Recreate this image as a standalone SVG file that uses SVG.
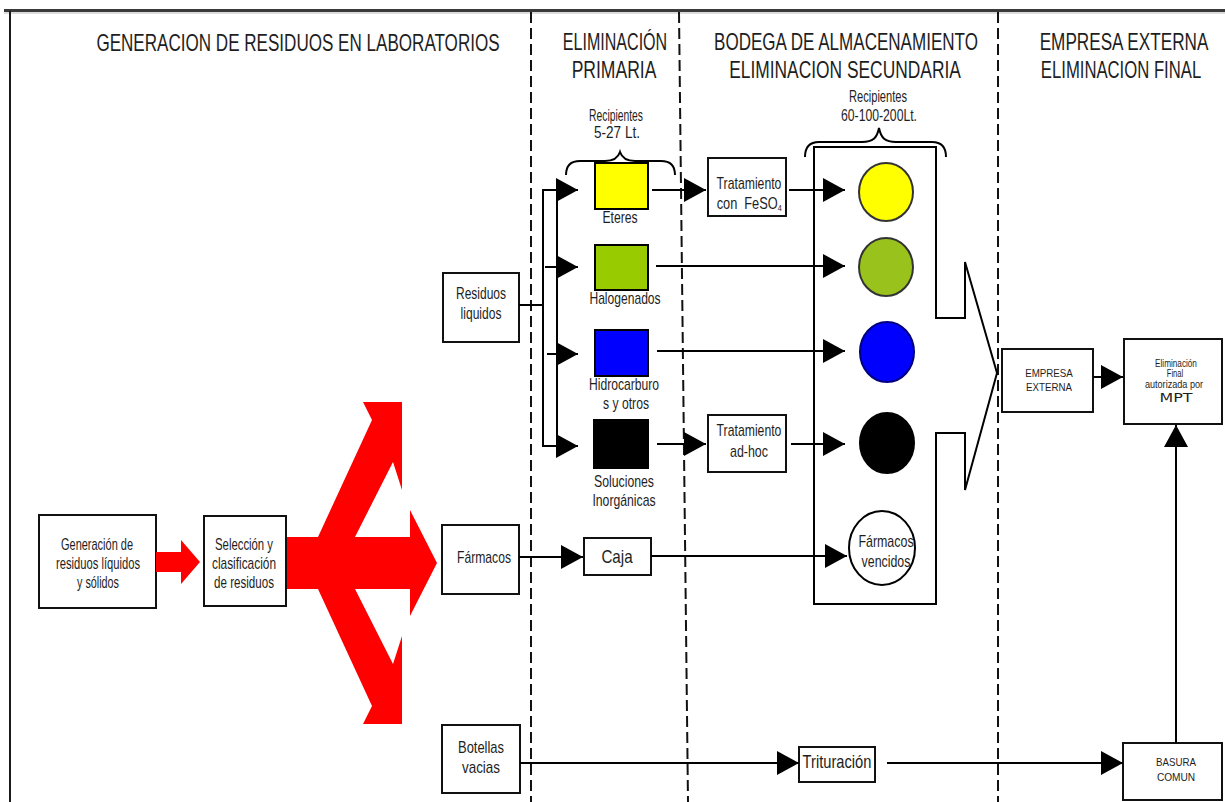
<svg xmlns="http://www.w3.org/2000/svg" width="1225" height="802" viewBox="0 0 1225 802">
<defs>
<marker id="ah" viewBox="0 0 22 24" refX="22" refY="12" markerWidth="22" markerHeight="24" markerUnits="userSpaceOnUse" orient="auto"><path d="M0,0 L22,12 L0,24 Z" fill="#000"/></marker>
</defs>
<style>
text{font-family:"Liberation Sans",Arial,sans-serif;fill:#1e1e1e;text-anchor:middle}
.hd{font-size:24px}
.sm{font-size:16px}
.md{font-size:18px}
.xs{font-size:11px}
.xxs{font-size:10px}
.box{fill:#fff;stroke:#111;stroke-width:2}
.ln{fill:none;stroke:#000;stroke-width:2}
.arr{fill:none;stroke:#000;stroke-width:2;marker-end:url(#ah)}
.dash{fill:none;stroke:#111;stroke-width:2;stroke-dasharray:11 5}
.red{fill:#ff0000}
</style>
<rect x="0" y="0" width="1225" height="802" fill="#fff"/>
<g id="frame">
<rect x="4" y="9" width="1221" height="3" fill="#3a3a3a"/>
<line x1="4" y1="13" x2="1225" y2="13" stroke="#bbb" stroke-width="1"/>
<line x1="10" y1="11" x2="10" y2="802" stroke="#1a1a1a" stroke-width="2"/>
<line class="dash" x1="531" y1="12" x2="531" y2="802"/>
<line class="dash" x1="679" y1="12" x2="688" y2="802"/>
<line class="dash" x1="998" y1="12" x2="998" y2="802"/>
</g>
<g id="headers">
<text class="hd" transform="translate(298,51) scale(.7,1)" textLength="576" lengthAdjust="spacingAndGlyphs">GENERACION DE RESIDUOS EN LABORATORIOS</text>
<text class="hd" transform="translate(615,50) scale(.7,1)" textLength="149" lengthAdjust="spacingAndGlyphs">ELIMINACIÓN</text>
<text class="hd" transform="translate(614,78) scale(.7,1)" textLength="121" lengthAdjust="spacingAndGlyphs">PRIMARIA</text>
<text class="hd" transform="translate(846,50) scale(.7,1)" textLength="377" lengthAdjust="spacingAndGlyphs">BODEGA DE ALMACENAMIENTO</text>
<text class="hd" transform="translate(845,78) scale(.7,1)" textLength="331" lengthAdjust="spacingAndGlyphs">ELIMINACION SECUNDARIA</text>
<text class="hd" transform="translate(1124,50) scale(.7,1)" textLength="241" lengthAdjust="spacingAndGlyphs">EMPRESA EXTERNA</text>
<text class="hd" transform="translate(1121,78) scale(.7,1)" textLength="229" lengthAdjust="spacingAndGlyphs">ELIMINACION FINAL</text>
</g>
<g id="recipientes-primaria">
<text class="sm" transform="translate(616,121) scale(.8,1)" textLength="67.5" lengthAdjust="spacingAndGlyphs">Recipientes</text>
<text class="sm" transform="translate(617,138) scale(.8,1)" textLength="57.5" lengthAdjust="spacingAndGlyphs">5-27 Lt.</text>
<path class="ln" d="M566,175 C566,166 570,161 580,161 L605,161 C614,161 618,158 620,152 C622,158 626,161 635,161 L661,161 C671,161 675,166 675,175"/>
</g>
<g id="recipientes-secundaria">
<text class="sm" transform="translate(878,102) scale(.8,1)" textLength="72.5" lengthAdjust="spacingAndGlyphs">Recipientes</text>
<text class="sm" transform="translate(879,121) scale(.8,1)" textLength="95" lengthAdjust="spacingAndGlyphs">60-100-200Lt.</text>
<path class="ln" d="M805,157 C805,147 809,142 819,142 L862,142 C873,142 877,138 879,128 C881,138 885,142 896,142 L932,142 C942,142 946,147 946,157"/>
</g>
<g id="generacion">
<rect class="box" x="39" y="515" width="117" height="93"/>
<text class="sm" transform="translate(97,550) scale(.8,1)" textLength="90" lengthAdjust="spacingAndGlyphs">Generación de</text>
<text class="sm" transform="translate(98,569) scale(.8,1)" textLength="105" lengthAdjust="spacingAndGlyphs">residuos líquidos</text>
<text class="sm" transform="translate(98,588) scale(.8,1)" textLength="52.5" lengthAdjust="spacingAndGlyphs">y sólidos</text>
</g>
<g id="seleccion">
<rect class="box" x="204" y="516" width="82" height="90"/>
<text class="sm" transform="translate(244,550) scale(.8,1)" textLength="72.5" lengthAdjust="spacingAndGlyphs">Selección y</text>
<text class="sm" transform="translate(244,569) scale(.8,1)" textLength="80" lengthAdjust="spacingAndGlyphs">clasificación</text>
<text class="sm" transform="translate(244,588) scale(.8,1)" textLength="75" lengthAdjust="spacingAndGlyphs">de residuos</text>
</g>
<g id="red-arrows">
<polygon class="red" points="156,552 181,552 181,540 200,562 181,584 181,572 156,572"/>
<polygon class="red" points="287,537 318,537 372,420 363,402 402,402 402,490 393,462 355,537 410,537 410,510 437,563 410,616 410,589 355,589 393,664 402,636 402,724 363,724 372,706 318,589 287,589"/>
</g>
<g id="residuos-liquidos">
<rect class="box" x="443" y="273" width="76" height="69"/>
<text class="sm" transform="translate(481,299) scale(.8,1)" textLength="62.5" lengthAdjust="spacingAndGlyphs">Residuos</text>
<text class="sm" transform="translate(481,319) scale(.8,1)" textLength="51" lengthAdjust="spacingAndGlyphs">liquidos</text>
</g>
<g id="farmacos">
<rect class="box" x="442" y="525" width="77" height="69"/>
<text class="sm" transform="translate(484,563) scale(.8,1)" textLength="67.5" lengthAdjust="spacingAndGlyphs">Fármacos</text>
</g>
<g id="botellas">
<rect class="box" x="442" y="725" width="78" height="68"/>
<text class="sm" transform="translate(481,753) scale(.8,1)" textLength="57.5" lengthAdjust="spacingAndGlyphs">Botellas</text>
<text class="sm" transform="translate(481,773) scale(.8,1)" textLength="47.5" lengthAdjust="spacingAndGlyphs">vacias</text>
</g>
<g id="eteres">
<rect x="595" y="163" width="53" height="46" fill="#ffff00" stroke="#000" stroke-width="2"/>
<text class="sm" transform="translate(620,223) scale(.8,1)" textLength="44" lengthAdjust="spacingAndGlyphs">Eteres</text>
</g>
<g id="halogenados">
<rect x="595" y="245" width="53" height="45" fill="#99cc00" stroke="#000" stroke-width="2"/>
<text class="sm" transform="translate(625,304) scale(.8,1)" textLength="89" lengthAdjust="spacingAndGlyphs">Halogenados</text>
</g>
<g id="hidrocarburos">
<rect x="595" y="330" width="53" height="46" fill="#0000ff" stroke="#000" stroke-width="2"/>
<text class="sm" transform="translate(624,390) scale(.8,1)" textLength="87.5" lengthAdjust="spacingAndGlyphs">Hidrocarburo</text>
<text class="sm" transform="translate(626,409) scale(.8,1)" textLength="57.5" lengthAdjust="spacingAndGlyphs">s y otros</text>
</g>
<g id="inorganicas">
<rect x="594" y="420" width="54" height="48" fill="#000" stroke="#000" stroke-width="2"/>
<text class="sm" transform="translate(624,487) scale(.8,1)" textLength="75" lengthAdjust="spacingAndGlyphs">Soluciones</text>
<text class="sm" transform="translate(624,506) scale(.8,1)" textLength="79" lengthAdjust="spacingAndGlyphs">Inorgánicas</text>
</g>
<g id="caja">
<rect class="box" x="584" y="538" width="67" height="37"/>
<text class="md" transform="translate(617,563) scale(.8,1)" textLength="39" lengthAdjust="spacingAndGlyphs">Caja</text>
</g>
<g id="tratamiento-feso4">
<rect class="box" x="708" y="158" width="78" height="58"/>
<text class="sm" transform="translate(749,189) scale(.8,1)" textLength="81" lengthAdjust="spacingAndGlyphs">Tratamiento</text>
<text class="sm" transform="translate(727,209) scale(.8,1)">con</text>
<text class="sm" transform="translate(763,209) scale(.8,1)">FeSO<tspan font-size="9" dy="2">4</tspan></text>
</g>
<g id="tratamiento-adhoc">
<rect class="box" x="708" y="415" width="78" height="57"/>
<text class="sm" transform="translate(749,436) scale(.8,1)" textLength="81" lengthAdjust="spacingAndGlyphs">Tratamiento</text>
<text class="sm" transform="translate(749,457) scale(.8,1)" textLength="47.5" lengthAdjust="spacingAndGlyphs">ad-hoc</text>
</g>
<g id="trituracion">
<rect class="box" x="799" y="747" width="76" height="35"/>
<text class="md" transform="translate(837,768) scale(.8,1)" textLength="86" lengthAdjust="spacingAndGlyphs">Trituración</text>
</g>
<g id="bodega">
<path class="ln" d="M814,147 H936 V318 H965 V262 L997,373 L965,490 V433 H936 V604 H814 Z"/>
<ellipse cx="886" cy="192" rx="27" ry="29" fill="#ffff00" stroke="#333" stroke-width="2"/>
<ellipse cx="886" cy="267" rx="27" ry="29" fill="#99c31c" stroke="#333" stroke-width="2"/>
<ellipse cx="887" cy="352" rx="27" ry="30" fill="#0000ff" stroke="#000080" stroke-width="2"/>
<ellipse cx="887" cy="443" rx="27" ry="30" fill="#000" stroke="#000" stroke-width="2"/>
</g>
<g id="farmacos-vencidos">
<ellipse cx="882" cy="548" rx="33" ry="37" fill="#fff" stroke="#000" stroke-width="2"/>
<text class="sm" transform="translate(886,547) scale(.8,1)" textLength="69" lengthAdjust="spacingAndGlyphs">Fármacos</text>
<text class="sm" transform="translate(886,567) scale(.8,1)" textLength="61" lengthAdjust="spacingAndGlyphs">vencidos</text>
</g>
<g id="empresa-externa">
<rect class="box" x="1002" y="349" width="91" height="63"/>
<text class="xs" transform="translate(1049,377) scale(.85,1)" textLength="56" lengthAdjust="spacingAndGlyphs">EMPRESA</text>
<text class="xs" transform="translate(1049,391) scale(.85,1)" textLength="54" lengthAdjust="spacingAndGlyphs">EXTERNA</text>
</g>
<g id="eliminacion-final">
<rect class="box" x="1124" y="339" width="98" height="85"/>
<text class="xxs" transform="translate(1176,367) scale(.82,1)" textLength="51" lengthAdjust="spacingAndGlyphs">Eliminación</text>
<text class="xxs" transform="translate(1175,377) scale(.82,1)" textLength="20" lengthAdjust="spacingAndGlyphs">Final</text>
<text class="xxs" transform="translate(1174,388) scale(.82,1)" textLength="71" lengthAdjust="spacingAndGlyphs">autorizada por</text>
<text x="1176" y="402" style="font-family:'DejaVu Sans',Verdana,sans-serif;font-size:13px" textLength="33" lengthAdjust="spacingAndGlyphs">MPT</text>
</g>
<g id="basura-comun">
<rect class="box" x="1123" y="743" width="99" height="57"/>
<text class="xs" transform="translate(1176,766) scale(.85,1)" textLength="47" lengthAdjust="spacingAndGlyphs">BASURA</text>
<text class="xs" transform="translate(1176,781) scale(.85,1)" textLength="45" lengthAdjust="spacingAndGlyphs">COMUN</text>
</g>
<g id="connectors">
<line class="ln" x1="519" y1="305" x2="543" y2="305"/>
<path class="ln" d="M557,190 H543 V446 H557"/>
<line class="ln" x1="557" y1="190" x2="557" y2="446"/>
<line class="arr" x1="543" y1="190" x2="578" y2="190"/>
<line class="arr" x1="545" y1="267" x2="578" y2="267"/>
<line class="arr" x1="547" y1="354" x2="578" y2="354"/>
<line class="arr" x1="543" y1="446" x2="578" y2="446"/>
<line class="arr" x1="652" y1="190" x2="706" y2="190"/>
<line class="arr" x1="789" y1="190" x2="845" y2="190"/>
<line class="arr" x1="656" y1="266" x2="845" y2="266"/>
<line class="arr" x1="657" y1="351" x2="845" y2="351"/>
<line class="arr" x1="657" y1="444" x2="706" y2="444"/>
<line class="arr" x1="791" y1="444" x2="845" y2="444"/>
<line class="arr" x1="519" y1="557" x2="583" y2="557"/>
<line class="arr" x1="651" y1="556" x2="847" y2="556"/>
<line class="arr" x1="520" y1="763" x2="799" y2="763"/>
<line class="arr" x1="887" y1="763" x2="1123" y2="763"/>
<line class="arr" x1="1093" y1="377" x2="1123" y2="377"/>
<line class="arr" x1="1176" y1="743" x2="1176" y2="425"/>
</g>
</svg>
